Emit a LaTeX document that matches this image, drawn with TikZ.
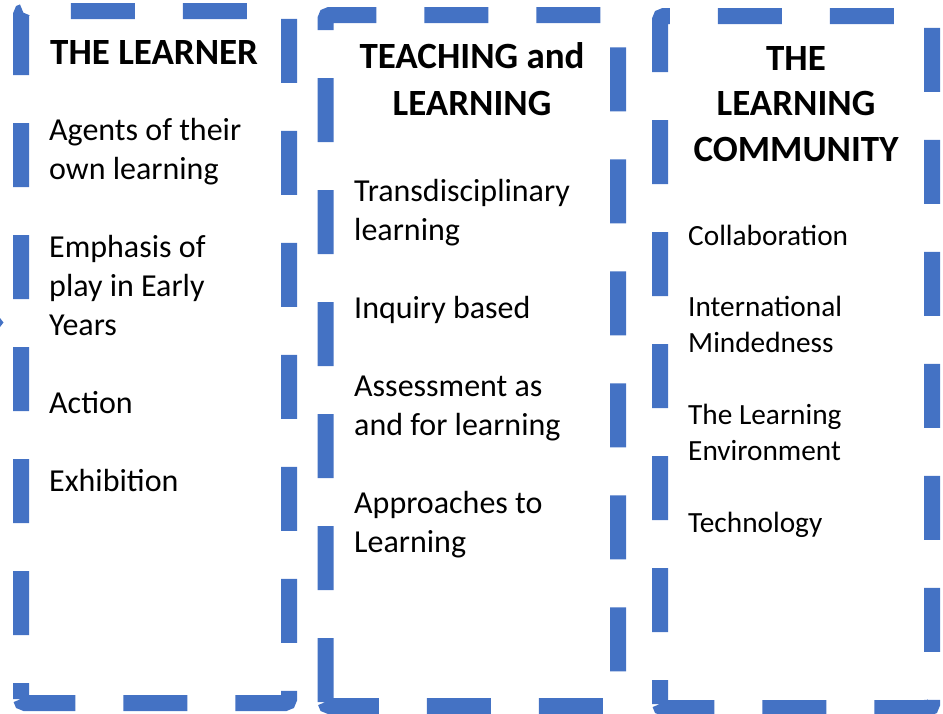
\documentclass[tikz,border=0pt]{standalone}
\usepackage{fontspec}
\setmainfont{Carlito}
\definecolor{pypblue}{HTML}{4472C4}
\tikzset{
  frame/.style={draw=pypblue, line width=16pt, dash pattern=on 64pt off 48pt, rounded corners=4pt},
  head/.style={inner sep=0pt, anchor=base, align=center, font=\bfseries\fontsize{37}{46.5}\selectfont},
  entry/.style={inner sep=0pt, anchor=base west, align=left, font=\fontsize{32}{39}\selectfont},
  smallentry/.style={entry, font=\fontsize{29.3}{36}\selectfont}
}
\begin{document}
\begin{tikzpicture}[x=1pt,y=-1pt]
  \useasboundingbox (0,0) rectangle (943,713);
  % frames
  \draw[frame, dash phase=48pt] (21,703) -- (21,11) -- (289,11) -- (289,703) -- cycle;
  \draw[frame, dash phase=0pt] (325.5,706) -- (325.5,15) -- (618,15) -- (618,706) -- cycle;
  \draw[frame, dash phase=40pt] (660,708) -- (660,16) -- (932,16) -- (932,708) -- cycle;
  \fill[pypblue] (0,318) -- (3.5,322.5) -- (0,327) -- cycle;
  % the learner (base = last line)
  \node[head, anchor=base west] (learner) at (50,64) {THE LEARNER};
  \node[entry] (agents) at (49,179) {Agents of their\\own learning};
  \node[entry] (play) at (49,335) {Emphasis of\\play in Early\\Years};
  \node[entry] (action) at (49,413) {Action};
  \node[entry] (exhib) at (49,491) {Exhibition};
  % teaching and learning
  \node[head] (teaching) at (472,115) {TEACHING and\\LEARNING};
  \node[entry] (transd) at (354,240) {Transdisciplinary\\learning};
  \node[entry] (inquiry) at (354,318) {Inquiry based};
  \node[entry] (assess) at (354,435) {Assessment as\\and for learning};
  \node[entry] (atl) at (354,552) {Approaches to\\Learning};
  % the learning community
  \node[head, font=\bfseries\fontsize{37}{45.5}\selectfont] (community) at (796,161) {THE\\LEARNING\\COMMUNITY};
  \node[smallentry] (collab) at (688,245) {Collaboration};
  \node[smallentry] (intl) at (688,352) {International\\Mindedness};
  \node[smallentry] (environ) at (688,460) {The Learning\\Environment};
  \node[smallentry] (tech) at (688,532) {Technology};
\end{tikzpicture}
\end{document}
